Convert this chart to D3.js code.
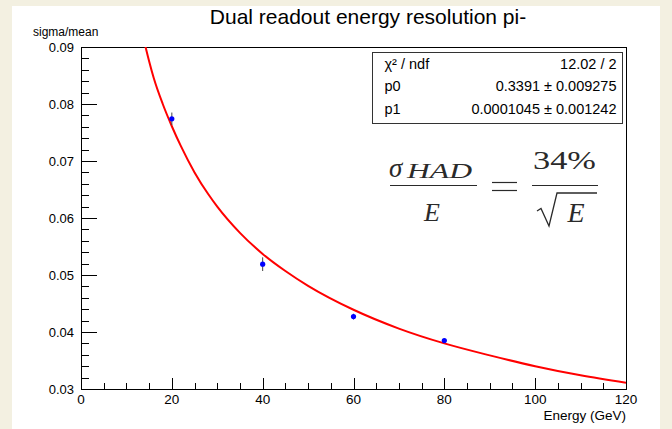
<!DOCTYPE html>
<html>
<head>
<meta charset="utf-8">
<script src="https://cdn.jsdelivr.net/npm/d3@7"></script>
<style>
  body { margin: 0; background: #f3f0e1; }
  svg { display: block; }
</style>
</head>
<body>
<svg id="chart" width="672" height="429"></svg>
<script>
// data points
var energies = [20, 40, 60, 80]
var resolution = [0.0774, 0.0519, 0.0427, 0.0385]
var resolutionErr = [0.0011, 0.0012, 0.0005, 0.0002]

// fit curve
var fitE = [14, 15, 16, 18, 20, 22, 25, 28, 30, 35, 40, 45, 50, 60, 70, 80, 90, 100, 110, 120]
var fitRes = [0.0907, 0.0875, 0.0846, 0.0800, 0.0761, 0.0726, 0.0680, 0.0642, 0.0620, 0.0574, 0.0537, 0.0507,
  0.0481, 0.0439, 0.0406, 0.0380, 0.0359, 0.0340, 0.0324, 0.0311]

var xTicks = [0, 20, 40, 60, 80, 100, 120]
var yTicks = [0.03, 0.04, 0.05, 0.06, 0.07, 0.08, 0.09]

var statRows = [
  ['χ² / ndf', '12.02 / 2'],
  ['p0', '0.3391 ± 0.009275'],
  ['p1', '0.0001045 ± 0.001242']
]

var svg = d3.select('#chart')
var font = 'Liberation Sans, Arial, Helvetica, sans-serif'
var serif = 'Liberation Serif, DejaVu Serif, serif'

// white canvas on beige
svg.append('rect')
  .attr('x', 12).attr('y', 6)
  .attr('width', 648).attr('height', 423)
  .attr('fill', 'white')

var frame = { left: 81, right: 626, top: 47, bottom: 389 }

var x = d3.scaleLinear().domain([0, 120]).range([frame.left, frame.right])
var y = d3.scaleLinear().domain([0.03, 0.09]).range([frame.bottom, frame.top])

svg.append('defs').append('clipPath').attr('id', 'plotclip')
  .append('rect')
  .attr('x', frame.left).attr('y', frame.top)
  .attr('width', frame.right - frame.left).attr('height', frame.bottom - frame.top)

// ticks inside the frame, like root does
function drawTicks () {
  var g = svg.append('g').attr('stroke', 'black').attr('stroke-width', 1)
  d3.range(0, 121, 5).forEach(function (v) {
    var major = (v % 20 === 0)
    var px = Math.round(x(v)) + 0.5
    g.append('line')
      .attr('x1', px).attr('x2', px)
      .attr('y1', frame.bottom).attr('y2', frame.bottom - (major ? 11 : 6))
  })
  d3.range(0, 31).forEach(function (i) {
    var v = 0.03 + i * 0.002
    var major = (i % 5 === 0)
    var py = Math.round(y(v)) + 0.5
    g.append('line')
      .attr('x1', frame.left).attr('x2', frame.left + (major ? 16 : 8))
      .attr('y1', py).attr('y2', py)
  })
}
drawTicks()

svg.append('g')
  .selectAll('text')
  .data(xTicks)
  .join('text')
  .attr('x', d => x(d))
  .attr('y', 404)
  .attr('text-anchor', 'middle')
  .attr('font-family', font)
  .attr('font-size', 13.5)
  .text(d => d)

svg.append('g')
  .selectAll('text')
  .data(yTicks)
  .join('text')
  .attr('x', 74)
  .attr('y', d => y(d) + 4.5)
  .attr('text-anchor', 'end')
  .attr('font-family', font)
  .attr('font-size', 13)
  .text(d => d3.format('.2f')(d))

svg.append('rect')
  .attr('x', frame.left + 0.5).attr('y', frame.top + 0.5)
  .attr('width', frame.right - frame.left).attr('height', frame.bottom - frame.top)
  .attr('fill', 'none').attr('stroke', 'black')

// fit line
var line = d3.line()
  .x((d, i) => x(fitE[i]))
  .y(d => y(d))
  .curve(d3.curveMonotoneX)

svg.append('path')
  .attr('d', line(fitRes))
  .attr('clip-path', 'url(#plotclip)')
  .attr('fill', 'none')
  .attr('stroke', '#ff0000')
  .attr('stroke-width', 2)

// points with error bars
var pts = svg.append('g')
energies.forEach(function (e, i) {
  pts.append('line')
    .attr('x1', x(e)).attr('x2', x(e))
    .attr('y1', y(resolution[i] - resolutionErr[i]))
    .attr('y2', y(resolution[i] + resolutionErr[i]))
    .attr('stroke', '#444').attr('stroke-width', 1)
  pts.append('circle')
    .attr('cx', x(e)).attr('cy', y(resolution[i]))
    .attr('r', 2.6)
    .attr('fill', '#0000ff')
})

// stat box
var box = { x: 372.5, y: 52.5, w: 250, h: 71 }
svg.append('rect')
  .attr('x', box.x).attr('y', box.y)
  .attr('width', box.w).attr('height', box.h)
  .attr('fill', 'white').attr('stroke', '#333')
statRows.forEach(function (r, i) {
  var by = box.y + 16 + i * 22.5
  svg.append('text')
    .attr('x', box.x + 12).attr('y', by)
    .attr('font-family', font).attr('font-size', 14.5)
    .text(r[0])
  svg.append('text')
    .attr('x', box.x + box.w - 6).attr('y', by)
    .attr('text-anchor', 'end')
    .attr('font-family', font).attr('font-size', 14.5)
    .text(r[1])
})

// the latex formula
var ink = '#2a2a2a'
var fml = svg.append('g').attr('font-family', serif).attr('fill', ink)
fml.append('text').attr('x', 389).attr('y', 177).attr('font-size', 27).attr('font-style', 'italic').text('σ')
fml.append('text').attr('x', 407).attr('y', 178).attr('font-size', 22).attr('font-style', 'italic')
  .attr('textLength', 65).attr('lengthAdjust', 'spacingAndGlyphs').text('HAD')
fml.append('line').attr('x1', 390).attr('x2', 477).attr('y1', 185.5).attr('y2', 185.5).attr('stroke', ink).attr('stroke-width', 1.2)
fml.append('text').attr('x', 432).attr('y', 221).attr('font-size', 26).attr('font-style', 'italic').attr('text-anchor', 'middle').text('E')
// equals sign, thin like computer modern
fml.append('line').attr('x1', 492).attr('x2', 517).attr('y1', 182.5).attr('y2', 182.5).attr('stroke', ink).attr('stroke-width', 1.2)
fml.append('line').attr('x1', 492).attr('x2', 517).attr('y1', 190.5).attr('y2', 190.5).attr('stroke', ink).attr('stroke-width', 1.2)
fml.append('text').attr('x', 533).attr('y', 169).attr('font-size', 26)
  .attr('textLength', 63).attr('lengthAdjust', 'spacingAndGlyphs').text('34%')
fml.append('line').attr('x1', 532).attr('x2', 598).attr('y1', 185.5).attr('y2', 185.5).attr('stroke', ink).attr('stroke-width', 1.2)
fml.append('path')
  .attr('d', 'M537,211 L541,208.5 L549,226 L557,193 L597,193')
  .attr('fill', 'none').attr('stroke', ink).attr('stroke-width', 1.3)
fml.append('text').attr('x', 576).attr('y', 222).attr('font-size', 28).attr('font-style', 'italic').attr('text-anchor', 'middle').text('E')

// titles
svg.append('text')
  .attr('x', 368).attr('y', 24)
  .attr('text-anchor', 'middle')
  .attr('font-family', font).attr('font-size', 21)
  .text('Dual readout energy resolution pi-')

svg.append('text')
  .attr('x', 33).attr('y', 36)
  .attr('font-family', font).attr('font-size', 12)
  .text('sigma/mean')

svg.append('text')
  .attr('x', 626).attr('y', 420)
  .attr('text-anchor', 'end')
  .attr('font-family', font).attr('font-size', 13.5)
  .text('Energy (GeV)')
</script>
</body>
</html>
